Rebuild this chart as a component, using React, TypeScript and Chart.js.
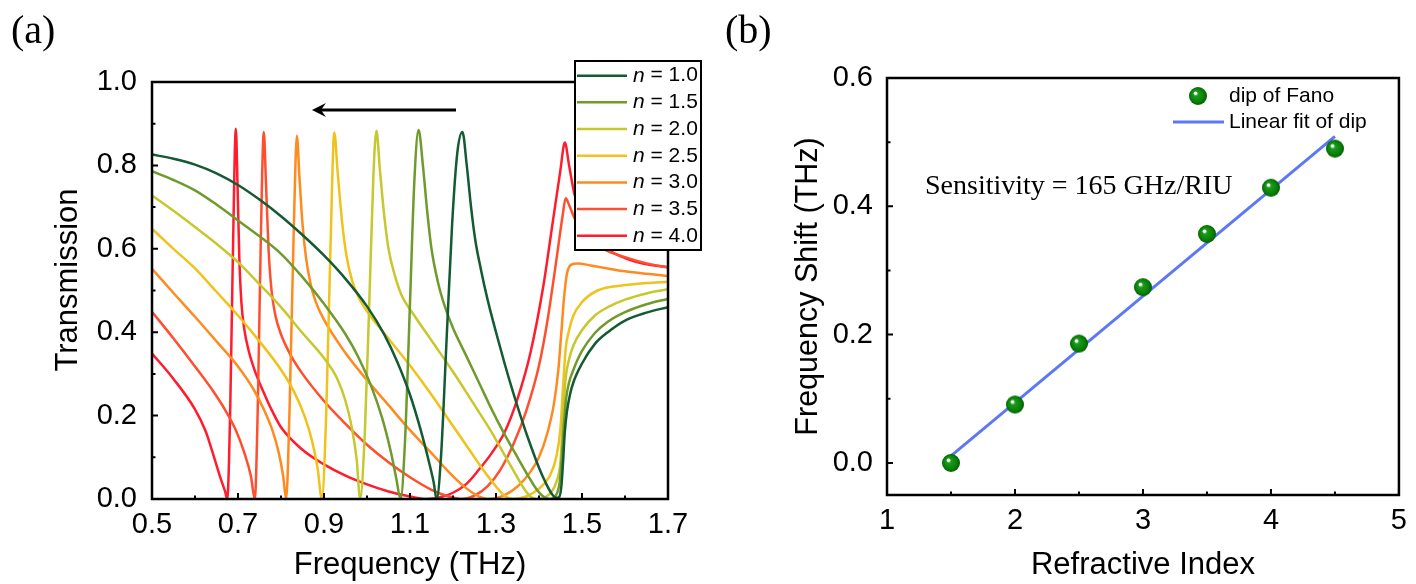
import React, { useEffect, useRef } from 'react';
import { Chart, registerables } from 'chart.js';

Chart.register(...registerables);

// ---------- Panel (a) data: transmission spectra ----------
const seriesLabels = ['1.0', '1.5', '2.0', '2.5', '3.0', '3.5', '4.0'];
const seriesColors = ['#145a32', '#6f9a2c', '#c6c82e', '#f0c21c', '#ff8a1f', '#ff4f2e', '#ff1c2c'];

const n10: [number, number][] = [
  [0.50, 0.826], [0.55, 0.816], [0.60, 0.802], [0.65, 0.781], [0.70, 0.753], [0.75, 0.718],
  [0.80, 0.678], [0.85, 0.633], [0.90, 0.584], [0.95, 0.528], [1.00, 0.462], [1.04, 0.395],
  [1.07, 0.330], [1.10, 0.250], [1.125, 0.165], [1.145, 0.085], [1.155, 0.040], [1.162, 0.0],
  [1.172, 0.10], [1.185, 0.38], [1.198, 0.66], [1.21, 0.83], [1.222, 0.880], [1.232, 0.80],
  [1.242, 0.70], [1.252, 0.62], [1.265, 0.55], [1.28, 0.48], [1.30, 0.400], [1.32, 0.325],
  [1.34, 0.255], [1.36, 0.190], [1.38, 0.130], [1.40, 0.075], [1.415, 0.040], [1.43, 0.012],
  [1.44, 0.003], [1.447, 0.005], [1.452, 0.03], [1.456, 0.09], [1.46, 0.16], [1.465, 0.21],
  [1.472, 0.25], [1.48, 0.28], [1.50, 0.325], [1.53, 0.372], [1.56, 0.400], [1.60, 0.428],
  [1.65, 0.447], [1.70, 0.460],
];
const n15: [number, number][] = [
  [0.50, 0.786], [0.55, 0.765], [0.60, 0.740], [0.65, 0.706], [0.70, 0.668], [0.75, 0.630],
  [0.80, 0.588], [0.85, 0.532], [0.90, 0.468], [0.95, 0.395], [0.98, 0.340], [1.01, 0.270],
  [1.035, 0.195], [1.055, 0.115], [1.068, 0.050], [1.078, 0.0], [1.088, 0.13], [1.10, 0.47],
  [1.11, 0.76], [1.12, 0.885], [1.13, 0.80], [1.14, 0.69], [1.15, 0.60], [1.165, 0.52],
  [1.18, 0.465], [1.20, 0.410], [1.23, 0.345], [1.26, 0.280], [1.29, 0.215], [1.32, 0.155],
  [1.35, 0.100], [1.375, 0.055], [1.395, 0.022], [1.41, 0.006], [1.425, 0.0], [1.44, 0.010],
  [1.448, 0.04], [1.453, 0.10], [1.458, 0.18], [1.463, 0.24], [1.47, 0.28], [1.48, 0.31],
  [1.50, 0.355], [1.53, 0.398], [1.56, 0.425], [1.60, 0.448], [1.65, 0.467], [1.70, 0.480],
];
const n20: [number, number][] = [
  [0.50, 0.728], [0.55, 0.691], [0.60, 0.652], [0.65, 0.612], [0.70, 0.568], [0.75, 0.515],
  [0.80, 0.460], [0.85, 0.398], [0.90, 0.338], [0.93, 0.290], [0.95, 0.235], [0.965, 0.170],
  [0.976, 0.095], [0.984, 0.0], [0.995, 0.16], [1.005, 0.46], [1.015, 0.78], [1.022, 0.883],
  [1.03, 0.79], [1.04, 0.68], [1.05, 0.60], [1.065, 0.535], [1.08, 0.49], [1.11, 0.44],
  [1.15, 0.380], [1.20, 0.305], [1.25, 0.225], [1.29, 0.160], [1.32, 0.105], [1.345, 0.060],
  [1.365, 0.025], [1.38, 0.006], [1.395, 0.0], [1.42, 0.008], [1.44, 0.040], [1.45, 0.09],
  [1.456, 0.20], [1.462, 0.29], [1.47, 0.335], [1.48, 0.368], [1.50, 0.405], [1.53, 0.440],
  [1.56, 0.460], [1.60, 0.478], [1.65, 0.493], [1.70, 0.503],
];
const n25: [number, number][] = [
  [0.50, 0.648], [0.55, 0.600], [0.60, 0.553], [0.65, 0.497], [0.70, 0.440], [0.75, 0.378],
  [0.80, 0.310], [0.83, 0.258], [0.855, 0.198], [0.872, 0.140], [0.885, 0.075], [0.895, 0.0],
  [0.905, 0.20], [0.915, 0.60], [0.924, 0.879], [0.932, 0.78], [0.942, 0.665], [0.952, 0.585],
  [0.965, 0.525], [0.98, 0.485], [1.00, 0.450], [1.05, 0.385], [1.10, 0.320], [1.15, 0.250],
  [1.20, 0.175], [1.24, 0.115], [1.27, 0.070], [1.30, 0.030], [1.32, 0.008], [1.34, 0.0],
  [1.37, 0.006], [1.40, 0.025], [1.425, 0.055], [1.44, 0.100], [1.45, 0.170], [1.456, 0.27],
  [1.462, 0.36], [1.47, 0.405], [1.48, 0.440], [1.50, 0.472], [1.536, 0.500], [1.60, 0.513],
  [1.65, 0.518], [1.70, 0.521],
];
const n30: [number, number][] = [
  [0.50, 0.552], [0.55, 0.494], [0.60, 0.437], [0.65, 0.378], [0.70, 0.318], [0.735, 0.265],
  [0.76, 0.215], [0.78, 0.165], [0.795, 0.110], [0.805, 0.055], [0.812, 0.0], [0.82, 0.22],
  [0.83, 0.66], [0.837, 0.871], [0.843, 0.77], [0.85, 0.66], [0.858, 0.58], [0.868, 0.52],
  [0.88, 0.475], [0.90, 0.430], [0.95, 0.350], [1.00, 0.285], [1.05, 0.225], [1.10, 0.165],
  [1.15, 0.110], [1.19, 0.065], [1.22, 0.035], [1.25, 0.012], [1.28, 0.0], [1.31, 0.005],
  [1.35, 0.030], [1.38, 0.065], [1.40, 0.100], [1.42, 0.160], [1.435, 0.230], [1.445, 0.310],
  [1.452, 0.400], [1.458, 0.480], [1.465, 0.540], [1.475, 0.562], [1.49, 0.565], [1.52, 0.560],
  [1.56, 0.553], [1.60, 0.546], [1.65, 0.540], [1.70, 0.535],
];
const n35: [number, number][] = [
  [0.50, 0.449], [0.55, 0.385], [0.60, 0.318], [0.64, 0.262], [0.67, 0.214], [0.695, 0.165],
  [0.715, 0.110], [0.73, 0.055], [0.739, 0.0], [0.746, 0.22], [0.753, 0.62], [0.760, 0.880],
  [0.765, 0.76], [0.771, 0.60], [0.778, 0.50], [0.787, 0.44], [0.80, 0.395], [0.825, 0.340],
  [0.85, 0.300], [0.90, 0.235], [0.95, 0.180], [1.00, 0.130], [1.05, 0.088], [1.10, 0.052],
  [1.15, 0.022], [1.19, 0.006], [1.22, 0.0], [1.25, 0.008], [1.28, 0.030], [1.31, 0.070],
  [1.34, 0.130], [1.37, 0.210], [1.40, 0.320], [1.42, 0.430], [1.44, 0.570], [1.455, 0.680],
  [1.462, 0.721], [1.47, 0.705], [1.482, 0.675], [1.50, 0.640], [1.55, 0.600], [1.60, 0.580],
  [1.65, 0.565], [1.70, 0.555],
];
const n40: [number, number][] = [
  [0.50, 0.349], [0.55, 0.288], [0.60, 0.215], [0.625, 0.162], [0.645, 0.098], [0.66, 0.048],
  [0.67, 0.018], [0.675, 0.0], [0.682, 0.22], [0.688, 0.58], [0.695, 0.888], [0.699, 0.75],
  [0.703, 0.58], [0.708, 0.47], [0.715, 0.405], [0.725, 0.355], [0.74, 0.305], [0.76, 0.255],
  [0.78, 0.210], [0.80, 0.172], [0.85, 0.118], [0.90, 0.083], [0.95, 0.056], [1.00, 0.035],
  [1.05, 0.018], [1.10, 0.006], [1.14, 0.0], [1.17, 0.004], [1.20, 0.015], [1.23, 0.035],
  [1.26, 0.070], [1.29, 0.110], [1.32, 0.160], [1.35, 0.240], [1.38, 0.350], [1.41, 0.510],
  [1.43, 0.650], [1.45, 0.790], [1.46, 0.855], [1.47, 0.800], [1.482, 0.733], [1.50, 0.680],
  [1.53, 0.635], [1.563, 0.597], [1.60, 0.578], [1.625, 0.569], [1.66, 0.561], [1.70, 0.556],
];
const spectra = [n10, n15, n20, n25, n30, n35, n40];

const freqTicks = [0.5, 0.7, 0.9, 1.1, 1.3, 1.5, 1.7];
const freqMinor = [0.6, 0.8, 1.0, 1.2, 1.4, 1.6];
const transTicks = [0, 0.2, 0.4, 0.6, 0.8, 1.0];
const transMinor = [0.1, 0.3, 0.5, 0.7, 0.9];
const arrowFrom = [1.207, 0.933];
const arrowTo = [0.872, 0.933];

// ---------- Panel (b) data: frequency shift vs refractive index ----------
const refractiveIndex = [1.5, 2, 2.5, 3, 3.5, 4, 4.5];
const dipShift = [0, 0.091, 0.186, 0.274, 0.357, 0.429, 0.49];
const fitIndex = [1.5, 4.5];
const fitShift = [0.011, 0.509];
const riTicks = [1, 2, 3, 4, 5];
const riMinor = [1.5, 2.5, 3.5, 4.5];
const shiftTicks = [0, 0.2, 0.4, 0.6];
const shiftMinor = [0.1, 0.3, 0.5];

const SANS = "'Liberation Sans', Arial, sans-serif";
const SERIF = "'Liberation Serif', 'Times New Roman', serif";

function makeSphere(r: number): HTMLCanvasElement {
  const s = r * 2 + 2;
  const c = document.createElement('canvas');
  c.width = s;
  c.height = s;
  const g = c.getContext('2d')!;
  const cx = s / 2, cy = s / 2;
  const grad = g.createRadialGradient(cx - r * 0.3, cy - r * 0.3, r * 0.05, cx, cy, r);
  grad.addColorStop(0, '#9be89b');
  grad.addColorStop(0.25, '#1c9a1c');
  grad.addColorStop(0.75, '#078007');
  grad.addColorStop(1, '#005c00');
  g.fillStyle = grad;
  g.beginPath();
  g.arc(cx, cy, r, 0, Math.PI * 2);
  g.fill();
  g.fillStyle = 'rgba(255,255,255,0.95)';
  g.beginPath();
  g.arc(cx - r * 0.28, cy - r * 0.3, r * 0.2, 0, Math.PI * 2);
  g.fill();
  return c;
}

function framePlugin(xMajor: number[], xMinor: number[], yMajor: number[], yMinor: number[]) {
  return {
    id: 'frameTicks',
    afterDatasetsDraw(chart: any) {
      const { ctx, chartArea, scales } = chart;
      const { left, top, right, bottom } = chartArea;
      ctx.save();
      ctx.strokeStyle = '#000';
      ctx.lineWidth = 2;
      ctx.beginPath();
      for (const v of xMajor) {
        const px = scales.x.getPixelForValue(v);
        ctx.moveTo(px, bottom);
        ctx.lineTo(px, bottom - 6);
      }
      for (const v of xMinor) {
        const px = scales.x.getPixelForValue(v);
        ctx.moveTo(px, bottom);
        ctx.lineTo(px, bottom - 3.5);
      }
      for (const v of yMajor) {
        const py = scales.y.getPixelForValue(v);
        ctx.moveTo(left, py);
        ctx.lineTo(left + 6, py);
      }
      for (const v of yMinor) {
        const py = scales.y.getPixelForValue(v);
        ctx.moveTo(left, py);
        ctx.lineTo(left + 3.5, py);
      }
      ctx.stroke();
      ctx.lineWidth = 2.5;
      ctx.strokeRect(left, top, right - left, bottom - top);
      ctx.restore();
    },
  };
}

export default function App() {
  const refA = useRef<HTMLCanvasElement>(null);
  const refB = useRef<HTMLCanvasElement>(null);

  useEffect(() => {
    Chart.defaults.font.family = SANS;
    Chart.defaults.color = '#000';

    // ---------- Chart (a) ----------
    const legendA = {
      id: 'legendA',
      afterDraw(chart: any) {
        const { ctx } = chart;
        ctx.save();
        // arrow
        const x0 = chart.scales.x.getPixelForValue(arrowFrom[0]);
        const y0 = chart.scales.y.getPixelForValue(arrowFrom[1]);
        const x1 = chart.scales.x.getPixelForValue(arrowTo[0]);
        ctx.strokeStyle = '#000';
        ctx.fillStyle = '#000';
        ctx.lineWidth = 3;
        ctx.beginPath();
        ctx.moveTo(x0, y0);
        ctx.lineTo(x1 + 6, y0);
        ctx.stroke();
        ctx.beginPath();
        ctx.moveTo(x1, y0);
        ctx.lineTo(x1 + 14, y0 - 7);
        ctx.lineTo(x1 + 9, y0);
        ctx.lineTo(x1 + 14, y0 + 7);
        ctx.closePath();
        ctx.fill();

        // legend box
        const bx = 575, by = 61, bw = 126, bh = 189;
        ctx.fillStyle = '#fff';
        ctx.fillRect(bx, by, bw, bh);
        ctx.lineWidth = 2;
        ctx.strokeStyle = '#000';
        ctx.strokeRect(bx, by, bw, bh);
        chart.data.datasets.forEach((ds: any, i: number) => {
          const yy = 75.7 + i * 26.67;
          ctx.strokeStyle = ds.borderColor;
          ctx.lineWidth = 2.5;
          ctx.beginPath();
          ctx.moveTo(577, yy);
          ctx.lineTo(627, yy);
          ctx.stroke();
          ctx.fillStyle = '#000';
          ctx.textBaseline = 'middle';
          ctx.textAlign = 'left';
          ctx.font = `italic 21px ${SANS}`;
          ctx.fillText('n', 633, yy);
          const w = ctx.measureText('n').width;
          ctx.font = `21px ${SANS}`;
          ctx.fillText(' = ' + seriesLabels[i], 633 + w, yy);
        });
        // y-axis title
        ctx.save();
        ctx.translate(68, 280);
        ctx.rotate(-Math.PI / 2);
        ctx.font = `31px ${SANS}`;
        ctx.textAlign = 'center';
        ctx.textBaseline = 'middle';
        ctx.fillStyle = '#000';
        ctx.fillText('Transmission', 0, 0);
        ctx.restore();
        // panel label
        ctx.font = `40px ${SERIF}`;
        ctx.textAlign = 'left';
        ctx.textBaseline = 'alphabetic';
        ctx.fillStyle = '#000';
        ctx.fillText('(a)', 11, 43);
        ctx.restore();
      },
    };

    const chartA = new Chart(refA.current!, {
      type: 'line',
      data: {
        datasets: spectra.map((s, i) => ({
          label: 'n = ' + seriesLabels[i],
          data: s.map(([x, y]) => ({ x, y })),
          borderColor: seriesColors[i],
          backgroundColor: seriesColors[i],
          borderWidth: 2.5,
          pointRadius: 0,
          cubicInterpolationMode: 'monotone',
          fill: false,
        })),
      },
      options: {
        animation: false,
        responsive: false,
        maintainAspectRatio: false,
        layout: { padding: { left: 0, top: 82, right: 40, bottom: 0 } },
        plugins: { legend: { display: false }, tooltip: { enabled: false } },
        scales: {
          x: {
            type: 'linear',
            min: 0.5,
            max: 1.7,
            afterBuildTicks: (s: any) => { s.ticks = freqTicks.map((v) => ({ value: v })); },
            afterFit: (s: any) => { s.height = 85; },
            grid: { display: false, drawTicks: false },
            border: { display: false },
            ticks: { padding: 9, font: { size: 29 }, color: '#000', maxRotation: 0, autoSkip: false, callback: (v: any) => Number(v).toFixed(1) },
            title: { display: true, text: 'Frequency (THz)', font: { size: 31 }, color: '#000', padding: { top: 0, bottom: 0 } },
          },
          y: {
            type: 'linear',
            min: 0,
            max: 1.0,
            afterBuildTicks: (s: any) => { s.ticks = transTicks.map((v) => ({ value: v })); },
            afterFit: (s: any) => { s.width = 152; },
            grid: { display: false, drawTicks: false },
            border: { display: false },
            ticks: { padding: 15, font: { size: 29 }, color: '#000', callback: (v: any) => Number(v).toFixed(1) },
            title: { display: false },
          },
        },
      },
      plugins: [framePlugin(freqTicks, freqMinor, transTicks, transMinor), legendA],
    } as any);

    // ---------- Chart (b) ----------
    const sphere = makeSphere(9);
    const legendB = {
      id: 'legendB',
      afterDraw(chart: any) {
        const { ctx } = chart;
        ctx.save();
        ctx.drawImage(sphere, 490 - sphere.width / 2, 96 - sphere.height / 2);
        ctx.fillStyle = '#000';
        ctx.textBaseline = 'middle';
        ctx.textAlign = 'left';
        ctx.font = `21px ${SANS}`;
        ctx.fillText(chart.data.datasets[1].label, 521, 96);
        ctx.strokeStyle = chart.data.datasets[0].borderColor;
        ctx.lineWidth = 3;
        ctx.beginPath();
        ctx.moveTo(465, 122);
        ctx.lineTo(516, 122);
        ctx.stroke();
        ctx.fillText(chart.data.datasets[0].label, 521, 122);
        ctx.font = `28px ${SERIF}`;
        ctx.textBaseline = 'alphabetic';
        ctx.fillText('Sensitivity = 165 GHz/RIU', 217, 194);
        ctx.font = `40px ${SERIF}`;
        ctx.fillText('(b)', 17, 43);
        ctx.restore();
      },
    };

    const chartB = new Chart(refB.current!, {
      type: 'line',
      data: {
        datasets: [
          {
            label: 'Linear fit of dip',
            data: fitIndex.map((x, i) => ({ x, y: fitShift[i] })),
            borderColor: '#5c78f5',
            borderWidth: 3,
            pointRadius: 0,
            fill: false,
            order: 2,
          },
          {
            label: 'dip of Fano',
            data: refractiveIndex.map((x, i) => ({ x, y: dipShift[i] })),
            showLine: false,
            pointStyle: sphere,
            pointRadius: 9,
            order: 1,
          },
        ],
      },
      options: {
        animation: false,
        responsive: false,
        maintainAspectRatio: false,
        layout: { padding: { left: 0, top: 78, right: 12, bottom: 0 } },
        plugins: { legend: { display: false }, tooltip: { enabled: false } },
        scales: {
          x: {
            type: 'linear',
            min: 1,
            max: 5,
            afterBuildTicks: (s: any) => { s.ticks = riTicks.map((v) => ({ value: v })); },
            afterFit: (s: any) => { s.height = 89; },
            grid: { display: false, drawTicks: false },
            border: { display: false },
            ticks: { padding: 9, font: { size: 29 }, color: '#000', maxRotation: 0, autoSkip: false, callback: (v: any) => String(Number(v)) },
            title: { display: true, text: 'Refractive Index', font: { size: 31 }, color: '#000', padding: { top: 0, bottom: 0 } },
          },
          y: {
            type: 'linear',
            min: -0.05,
            max: 0.6,
            afterBuildTicks: (s: any) => { s.ticks = shiftTicks.map((v) => ({ value: v })); },
            afterFit: (s: any) => { s.width = 179; },
            grid: { display: false, drawTicks: false },
            border: { display: false },
            ticks: { padding: 14, font: { size: 29 }, color: '#000', callback: (v: any) => Number(v).toFixed(1) },
            title: { display: true, text: 'Frequency Shift (THz)', font: { size: 30.5 }, color: '#000', padding: { top: 82, bottom: 0 } },
          },
        },
      },
      plugins: [framePlugin(riTicks, riMinor, shiftTicks, shiftMinor), legendB],
    } as any);

    return () => {
      chartA.destroy();
      chartB.destroy();
    };
  }, []);

  return (
    <div style={{ position: 'absolute', left: 0, top: 0, width: 1416, height: 584, background: '#fff' }}>
      <canvas ref={refA} width={708} height={584} style={{ position: 'absolute', left: 0, top: 0, display: 'block' }} />
      <canvas ref={refB} width={708} height={584} style={{ position: 'absolute', left: 708, top: 0, display: 'block' }} />
    </div>
  );
}
